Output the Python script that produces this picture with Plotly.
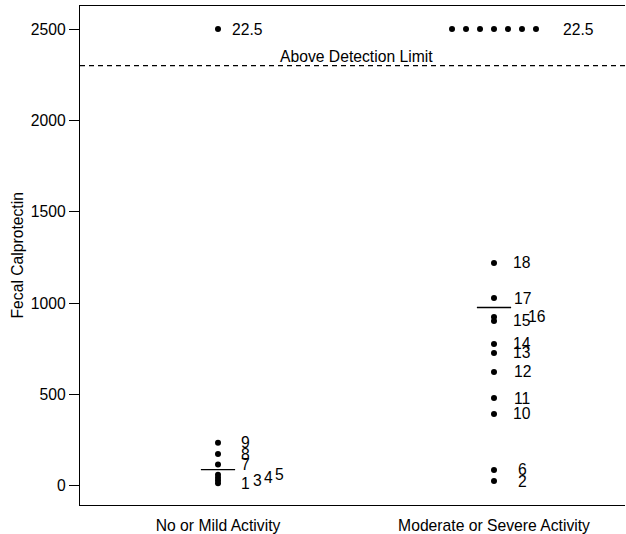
import plotly.graph_objects as go
import numpy as np

# ---- data ----
categories = ["No or Mild Activity", "Moderate or Severe Activity"]
left_values = [15, 30, 45, 62, 118, 175, 237]
left_ranks = ["1", "3", "4", "5", "7", "8", "9"]
right_values = [27, 88, 394, 481, 624, 728, 777, 903, 925, 1028, 1220]
right_ranks = ["2", "6", "10", "11", "12", "13", "14", "15", "16", "17", "18"]
n_above = [1, 7]          # samples above detection limit per group
above_value = 2500        # plotted value for samples above the limit
above_rank = "22.5"       # tied rank of samples above the limit
detection_limit = 2300
y_ticks = [0, 500, 1000, 1500, 2000, 2500]

FONT = "Liberation Sans, Arial, Helvetica, sans-serif"
FS = 15.7
dot = dict(color="black", size=6)

fig = go.Figure()

groups = [(1, left_values, left_ranks), (2, right_values, right_ranks)]
# label horizontal shifts (px) to avoid overlap
left_shift = [27, 39, 50, 61, 27, 27, 27]
right_shift = [28] * 7 + [28, 43] + [28, 28]
shifts = [left_shift, right_shift]

annotations = []
for gi, (xc, vals, ranks) in enumerate(groups):
    fig.add_trace(go.Scatter(x=[xc] * len(vals), y=vals, mode="markers",
                             marker=dot, showlegend=False, hoverinfo="y"))
    allv = list(vals) + [above_value] * n_above[gi]
    med = float(np.median(allv))
    fig.add_trace(go.Scatter(x=[xc - 0.062, xc + 0.062], y=[med, med], mode="lines",
                             line=dict(color="black", width=1.3), showlegend=False,
                             hoverinfo="skip"))
    for v, r, s in zip(vals, ranks, shifts[gi]):
        annotations.append(dict(x=xc, y=v, xref="x", yref="y", text=r, showarrow=False,
                                xshift=s, font=dict(family=FONT, size=FS, color="black")))
    # above-limit points
    k = n_above[gi]
    step = 0.0507
    xs = [xc + (i - (k - 1) / 2) * step for i in range(k)]
    fig.add_trace(go.Scatter(x=xs, y=[above_value] * k, mode="markers", marker=dot,
                             showlegend=False, hoverinfo="y"))
    annotations.append(dict(x=xs[-1], y=above_value, xref="x", yref="y", text=above_rank,
                            showarrow=False, xanchor="left", xshift=12 if k == 1 else 25,
                            font=dict(family=FONT, size=FS, color="black")))

# detection limit
fig.add_shape(type="line", xref="paper", yref="y", x0=0, x1=1,
              y0=detection_limit, y1=detection_limit,
              line=dict(color="black", width=1.3, dash="5px,4px"))
annotations.append(dict(x=1.5, y=detection_limit, xref="x", yref="y",
                        text="Above Detection Limit", showarrow=False, yanchor="bottom",
                        yshift=-1, font=dict(family=FONT, size=FS, color="black")))
# y-axis title
annotations.append(dict(x=-(80 - 17) / 545, y=0.5, xanchor="center", yanchor="middle",
                        xref="paper", yref="paper", text="Fecal Calprotectin",
                        textangle=-90, showarrow=False,
                        font=dict(family=FONT, size=FS, color="black")))

fig.update_layout(
    width=626, height=534,
    margin=dict(l=80, r=1, t=6, b=29),
    plot_bgcolor="white", paper_bgcolor="white",
    font=dict(family=FONT, size=FS, color="black"),
    annotations=annotations,
    showlegend=False,
)
fig.update_xaxes(range=[0.5, 0.5 + 545 / 276], tickvals=[1, 2], ticktext=categories,
                 showgrid=False, zeroline=False, showline=True, linecolor="black",
                 linewidth=1.3, mirror=True, ticks="outside", ticklen=6,
                 tickcolor="rgba(0,0,0,0)", tickfont=dict(family=FONT, size=FS))
fig.update_yaxes(range=[-104, 2626], tickvals=y_ticks, showgrid=False, zeroline=False,
                 showline=True, linecolor="black", linewidth=1.3, mirror=False,
                 ticks="outside", ticklen=10, tickwidth=1.3, tickcolor="black",
                 tickfont=dict(family=FONT, size=FS))

fig.write_html("out.html", config={"displayModeBar": False},
               post_script="document.body.style.margin='0';document.body.style.padding='0';")
